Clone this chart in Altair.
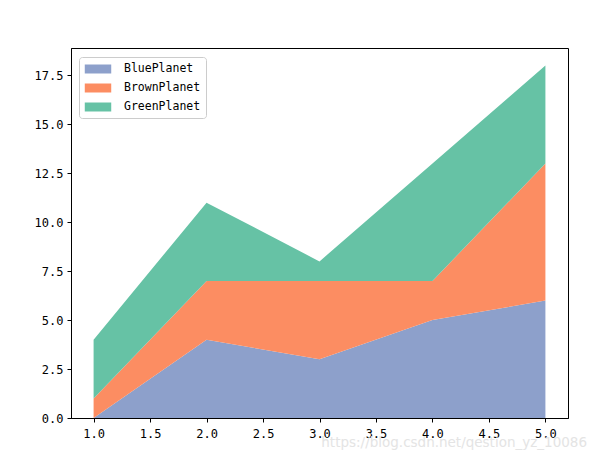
import altair as alt
import pandas as pd

x_vals = [1, 2, 3, 4, 5]
blue = [0, 4, 3, 5, 6]
brown = [1, 3, 4, 2, 7]
green = [3, 4, 1, 6, 5]

series = ["BluePlanet", "BrownPlanet", "GreenPlanet"]
colors = ["#8da0cb", "#fc8d62", "#66c2a5"]

rows = []
for k, (name, vals) in enumerate(zip(series, [blue, brown, green])):
    for x, v in zip(x_vals, vals):
        rows.append({"x": x, "value": v, "planet": name, "k": k})
df = pd.DataFrame(rows)

font = "DejaVu Sans Mono"

area = alt.Chart(df).mark_area(opacity=1).encode(
    x=alt.X("x:Q", scale=alt.Scale(domain=[0.8, 5.2], nice=False, zero=False),
            axis=alt.Axis(values=[1, 1.5, 2, 2.5, 3, 3.5, 4, 4.5, 5], format=".1f",
                          title=None, grid=False, labelPadding=6)),
    y=alt.Y("value:Q", stack="zero", scale=alt.Scale(domain=[0, 18.9], nice=False),
            axis=alt.Axis(values=[0, 2.5, 5, 7.5, 10, 12.5, 15, 17.5], format=".1f",
                          title=None, grid=False, labelPadding=4)),
    color=alt.Color("planet:N", scale=alt.Scale(domain=series, range=colors),
                    legend=alt.Legend(title=None, orient="none", legendX=8, legendY=9,
                                      symbolType="M-2,-0.68L2,-0.68L2,0.68L-2,0.68Z",
                                      symbolSize=175, symbolOpacity=1,
                                      symbolOffset=7, labelOffset=19,
                                      labelFont=font, labelFontSize=11.5,
                                      labelColor="black", rowPadding=6,
                                      strokeColor="#cccccc", cornerRadius=3,
                                      padding=5, fillColor="white",
                                      symbolStrokeWidth=0)),
    order=alt.Order("k:Q"),
)

# faint watermark, as in the original screenshot
watermark = alt.Chart(pd.DataFrame({"t": ["https://blog.csdn.net/qestion_yz_10086"]})).mark_text(
    align="right", baseline="middle", fontSize=13.5, color="#e4e4e4", font="DejaVu Sans"
).encode(text="t:N", x=alt.value(516), y=alt.value(395))

chart = (area + watermark).properties(
    width=497, height=370,
    autosize=alt.AutoSizeParams(type="none"),
    padding={"left": 63, "top": 40, "right": 19, "bottom": 33},
).configure_view(stroke="black", strokeWidth=1).configure_axis(
    domainColor="black", tickColor="black", labelColor="black",
    labelFont=font, labelFontSize=12, tickSize=4, domainWidth=1
)

chart.save("out.html", embed_options={"renderer": "svg", "actions": False})
